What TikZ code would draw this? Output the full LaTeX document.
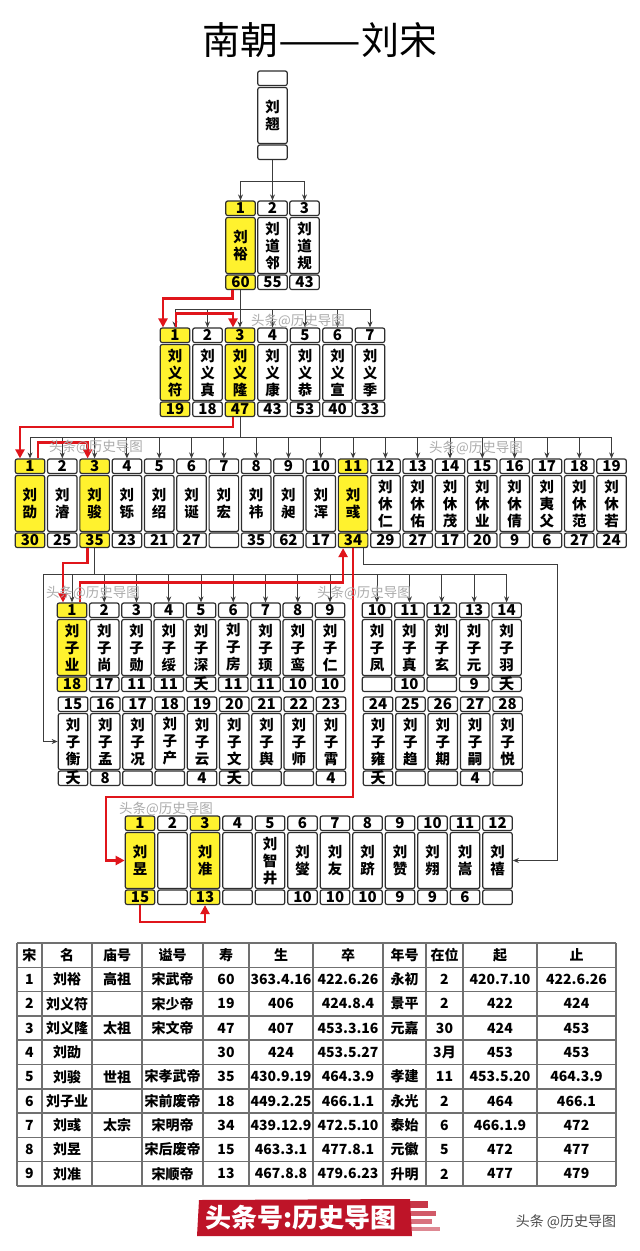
\documentclass[tikz,border=0pt]{standalone}
\usepackage{fontspec}
\usepackage{graphicx}
\setmainfont{Noto Sans CJK SC}
\usetikzlibrary{arrows.meta}
\definecolor{yl}{HTML}{FFF22E}
\definecolor{rl}{HTML}{E0151B}
\definecolor{bd}{HTML}{2E2E2E}
\definecolor{gl}{HTML}{3C3C3C}
\definecolor{wm}{HTML}{ABABAB}
\definecolor{tb}{HTML}{707070}
\definecolor{bn}{HTML}{BE1428}
\tikzset{
 pb/.style={draw=bd, line width=1.2pt, rounded corners=2pt, minimum width=29.5pt, inner sep=0pt},
 numbox/.style={pb, minimum height=14.5pt, font=\fontsize{15}{15}\selectfont\bfseries},
 namebox/.style={pb, minimum height=56pt, align=center, font=\fontsize{14.5}{17}\selectfont\bfseries},
 gline/.style={draw=gl, line width=0.9pt},
 garrow/.style={gline, -{Stealth[length=6pt,width=5pt]}},
 rline/.style={draw=rl, line width=2.6pt},
 rarrow/.style={rline, -{Triangle[length=9pt,width=9pt]}},
 wmark/.style={text=wm, font=\fontsize{13.5}{14}\selectfont, inner sep=0pt},
 tline/.style={draw=tb, line width=1.5pt},
 cell/.style={font=\fontsize{14}{14}\selectfont\bfseries, inner sep=0pt},
}
\newcommand\Pcol[7]{%
 \node[numbox,fill=#7] (#1-n) at (#2,#3+7.25) {#4};
 \node[namebox,fill=#7] (#1-m) at (#2,#3+44.5) {#5};
 \node[numbox,fill=#7] (#1-a) at (#2,#3+81.25) {#6};}
\begin{document}
\begin{tikzpicture}[x=1pt,y=-1pt]
\fill[white] (0,0) rectangle (640,1251);
\useasboundingbox (0,0) rectangle (640,1251);
% title
\node[font=\fontsize{38}{38}\selectfont, inner sep=0pt] (title) at (320,40) {南朝\scalebox{1.3}[1]{——}刘宋};
% generation 0 and 1
\Pcol{r0}{272.5}{71}{}{刘\\翘}{}{white}
\Pcol{r1-1}{240.5}{201}{1}{刘\\裕}{60}{yl}
\Pcol{r1-2}{272.5}{201}{2}{刘\\道\\邻}{55}{white}
\Pcol{r1-3}{304.5}{201}{3}{刘\\道\\规}{43}{white}
% generation 2
\foreach \i/\nm/\ag/\fl in {1/{刘\\义\\符}/19/yl, 2/{刘\\义\\真}/18/white, 3/{刘\\义\\隆}/47/yl, 4/{刘\\义\\康}/43/white, 5/{刘\\义\\恭}/53/white, 6/{刘\\义\\宣}/40/white, 7/{刘\\义\\季}/33/white}{
 \pgfmathsetmacro\xx{175+32.5*(\i-1)}
 \Pcol{r2-\i}{\xx}{328}{\i}{\nm}{\ag}{\fl}}
% generation 3
\foreach \i/\nm/\ag/\fl in {1/{刘\\劭}/30/yl, 2/{刘\\濬}/25/white, 3/{刘\\骏}/35/yl, 4/{刘\\铄}/23/white, 5/{刘\\绍}/21/white, 6/{刘\\诞}/27/white, 7/{刘\\宏}/{}/white, 8/{刘\\祎}/35/white, 9/{刘\\昶}/62/white, 10/{刘\\浑}/17/white, 11/{刘\\彧}/34/yl, 12/{刘\\休\\仁}/29/white, 13/{刘\\休\\佑}/27/white, 14/{刘\\休\\茂}/17/white, 15/{刘\\休\\业}/20/white, 16/{刘\\休\\倩}/9/white, 17/{刘\\夷\\父}/6/white, 18/{刘\\休\\范}/27/white, 19/{刘\\休\\若}/24/white}{
 \pgfmathsetmacro\xx{30+32.31*(\i-1)}
 \Pcol{r3-\i}{\xx}{459}{\i}{\nm}{\ag}{\fl}}
% generation 4
\foreach \i/\nm/\ag/\fl in {1/{刘\\子\\业}/18/yl, 2/{刘\\子\\尚}/17/white, 3/{刘\\子\\勋}/11/white, 4/{刘\\子\\绥}/11/white, 5/{刘\\子\\深}/夭/white, 6/{刘\\子\\房}/11/white, 7/{刘\\子\\顼}/11/white, 8/{刘\\子\\鸾}/10/white, 9/{刘\\子\\仁}/10/white}{
 \pgfmathsetmacro\xx{72+32.25*(\i-1)}
 \Pcol{r4-\i}{\xx}{603}{\i}{\nm}{\ag}{\fl}}
\foreach \i/\nm/\ag in {10/{刘\\子\\凤}/{}, 11/{刘\\子\\真}/10, 12/{刘\\子\\玄}/{}, 13/{刘\\子\\元}/9, 14/{刘\\子\\羽}/夭}{
 \pgfmathsetmacro\xx{377+32.4*(\i-10)}
 \Pcol{r4-\i}{\xx}{603}{\i}{\nm}{\ag}{white}}
\foreach \i/\nm/\ag in {15/{刘\\子\\衡}/夭, 16/{刘\\子\\孟}/8, 17/{刘\\子\\况}/{}, 18/{刘\\子\\产}/{}, 19/{刘\\子\\云}/4, 20/{刘\\子\\文}/夭, 21/{刘\\子\\舆}/{}, 22/{刘\\子\\师}/{}, 23/{刘\\子\\霄}/4}{
 \pgfmathsetmacro\xx{73+32.25*(\i-15)}
 \Pcol{r5-\i}{\xx}{697}{\i}{\nm}{\ag}{white}}
\foreach \i/\nm/\ag in {24/{刘\\子\\雍}/夭, 25/{刘\\子\\趋}/{}, 26/{刘\\子\\期}/{}, 27/{刘\\子\\嗣}/4, 28/{刘\\子\\悦}/{}}{
 \pgfmathsetmacro\xx{378+32.4*(\i-24)}
 \Pcol{r5-\i}{\xx}{697}{\i}{\nm}{\ag}{white}}
% generation 5
\foreach \i/\nm/\ag/\fl in {1/{刘\\昱}/15/yl, 2/{}/{}/white, 3/{刘\\准}/13/yl, 4/{}/{}/white, 5/{刘\\智\\井}/{}/white, 6/{刘\\燮}/10/white, 7/{刘\\友}/10/white, 8/{刘\\跻}/10/white, 9/{刘\\赞}/9/white, 10/{刘\\翙}/9/white, 11/{刘\\嵩}/6/white, 12/{刘\\禧}/{}/white}{
 \pgfmathsetmacro\xx{140+32.5*(\i-1)}
 \Pcol{r6-\i}{\xx}{816}{\i}{\nm}{\ag}{\fl}}
% ---------- gray connectors
\coordinate (b1) at (0,181);
\coordinate (b2) at (0,309);
\coordinate (b3) at (0,437);
\coordinate (b4) at (0,574);
\coordinate (lb) at (43,574);
\coordinate (gb) at (557,564);
\coordinate (rb) at (106,797);
\draw[gline] (r0-a.south) -- (r0-a.south |- b1);
\draw[gline] (r1-1-n.north |- b1) -- (r1-3-n.north |- b1);
\foreach \i in {1,2,3} \draw[garrow] (r1-\i-n.north |- b1) -- (r1-\i-n.north);
\draw[gline] (r1-1-a.south) -- (r1-1-a.south |- b2);
\draw[gline] (r2-1-n.north |- b2) -- (r2-7-n.north |- b2);
\foreach \i in {1,...,7} \draw[garrow] (r2-\i-n.north |- b2) -- (r2-\i-n.north);
\draw[gline] (r2-3-a.south) -- (r2-3-a.south |- b3);
\draw[gline] (r3-1-n.north |- b3) -- (r3-19-n.north |- b3);
\foreach \i in {1,...,19} \draw[garrow] (r3-\i-n.north |- b3) -- (r3-\i-n.north);
\draw[gline] (r3-3-a.south) -- (r3-3-a.south |- b4);
\draw[gline] (lb) -- (r4-14-n.north |- b4);
\foreach \i in {1,...,14} \draw[garrow] (r4-\i-n.north |- b4) -- (r4-\i-n.north);
\draw[garrow] (lb) |- (r5-15-m.west);
\draw[garrow] ([xshift=10pt]r3-11-a.south) |- (gb) |- (r6-12-m.east);
% ---------- red succession
\draw[rarrow] ([xshift=-8pt]r1-1-a.south) -- ++(0,8.5) -| ([xshift=-12pt]r2-1-n.north);
\draw[rarrow] ([xshift=1pt]r2-1-n.north) -- ++(0,-14) -| ([xshift=-7pt]r2-3-n.north);
\draw[rarrow] ([xshift=-7pt]r2-3-a.south) -- ++(0,10) -| ([xshift=-10pt]r3-1-n.north);
\draw[rarrow] ([xshift=8pt]r3-1-n.north) -- ++(0,-16) -| ([xshift=-7pt]r3-3-n.north);
\draw[rarrow] ([xshift=-7pt]r3-3-a.south) -- ++(0,15) -| ([xshift=-9pt]r4-1-n.north);
\draw[rarrow] ([xshift=8pt]r4-1-n.north) -- ++(0,-20) -| ([xshift=-10pt]r3-11-a.south);
\draw[rarrow] (r3-11-a.south) |- (rb) |- (r6-1-m.west);
\draw[rarrow] (r6-1-a.south) -- ++(0,17) -| (r6-3-a.south);
% ---------- watermarks
\node[wmark] (wm1) at (298,321) {头条@历史导图};
\node[wmark] (wm2) at (96,447) {头条@历史导图};
\node[wmark] (wm3) at (476,448) {头条@历史导图};
\node[wmark] (wm4) at (93,593) {头条@历史导图};
\node[wmark] (wm5) at (364,593) {头条@历史导图};
\node[wmark] (wm6) at (166,809) {头条@历史导图};
% ---------- table
\foreach \k in {0,...,10} \draw[tline] (17,{943+24.3*\k}) -- (616,{943+24.3*\k});
\foreach \xv in {17,42,92,142,203,249,313,383,426,463,537,616} \draw[tline] (\xv,943) -- (\xv,1186);
\foreach \row [count=\r from 0] in {
 {宋,名,庙号,谥号,寿,生,卒,年号,在位,起,止},
 {1,刘裕,高祖,宋武帝,60,363.4.16,422.6.26,永初,2,420.7.10,422.6.26},
 {2,刘义符,{},宋少帝,19,406,424.8.4,景平,2,422,424},
 {3,刘义隆,太祖,宋文帝,47,407,453.3.16,元嘉,30,424,453},
 {4,刘劭,{},{},30,424,453.5.27,{},3月,453,453},
 {5,刘骏,世祖,宋孝武帝,35,430.9.19,464.3.9,孝建,11,453.5.20,464.3.9},
 {6,刘子业,{},宋前废帝,18,449.2.25,466.1.1,永光,2,464,466.1},
 {7,刘彧,太宗,宋明帝,34,439.12.9,472.5.10,泰始,6,466.1.9,472},
 {8,刘昱,{},宋后废帝,15,463.3.1,477.8.1,元徽,5,472,477},
 {9,刘准,{},宋顺帝,13,467.8.8,479.6.23,升明,2,477,479}}{
 \foreach \c [count=\k] in \row {
  \pgfmathsetmacro\cx{{29.5,67,117,172.5,226,281,348,404.5,444.5,500,576.5}[\k-1]}
  \node[cell] (t-\r-\k) at (\cx,{943+24.3*(\r+0.5)}) {\c};
 }}
% ---------- footer
\fill[bn] (199,1200) -- (410,1199) -- (412,1236) -- (197,1236) -- cycle;
\fill[bn, opacity=.85] (410,1201) rectangle (428,1208);
\fill[bn, opacity=.7] (410,1211) rectangle (436,1216);
\fill[bn, opacity=.6] (410,1219) rectangle (432,1224);
\fill[bn, opacity=.5] (410,1227) rectangle (440,1231);
\node[text=white, font=\fontsize{26}{26}\selectfont\bfseries, inner sep=0pt] (ban) at (301,1218) {头条号:历史导图};
\node[text=black!70, font=\fontsize{14}{14}\selectfont, inner sep=0pt] (sig) at (566,1222) {头条 @历史导图};
\end{tikzpicture}
\end{document}
